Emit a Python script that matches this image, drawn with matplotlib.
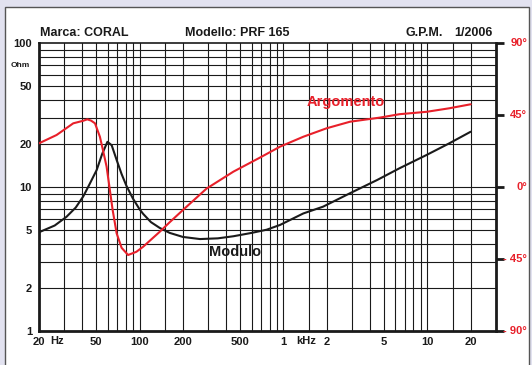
import matplotlib
matplotlib.use("Agg")
import matplotlib.pyplot as plt
import matplotlib.patches as patches
import numpy as np

# impedance modulus (Ohm) vs frequency (Hz)
mod_freq = [20, 25.7, 31, 36, 40.6, 45, 50.3, 55, 59.8, 64, 69.3, 75, 81, 90, 100,
            106, 120, 138, 162, 200, 263, 350, 449, 600, 764, 946, 1373, 1884, 2900,
            4490, 6410, 9890, 14200, 20000]
mod_ohm = [4.85, 5.4, 6.2, 7.2, 8.6, 10.5, 13.1, 17.0, 20.6, 19.5, 15.4, 12.3, 10.2, 8.3, 7.0,
           6.5, 5.7, 5.2, 4.8, 4.5, 4.35, 4.4, 4.55, 4.8, 5.05, 5.45, 6.55, 7.3, 9.05,
           11.2, 13.5, 16.7, 20.1, 24.2]

# impedance phase (degrees) vs frequency (Hz)
ph_freq = [20, 26.5, 34.6, 40.6, 43.3, 46, 49, 53, 56, 59, 65, 69.3, 75, 83.2, 95,
           106, 138, 162, 200, 292, 449, 684, 946, 1373, 1995, 2900, 4700, 6400,
           9890, 14200, 20000]
ph_deg = [27.3, 32.5, 39.8, 41.4, 42.3, 41.5, 39.8, 31.4, 22, 12.7, -14.4, -29, -38, -42.5, -40.5,
          -37.3, -28, -22, -14.4, -1, 9.6, 18.3, 25.2, 31.4, 36.7, 40.8, 43.4, 45.5,
          47, 49.2, 51.7]

x_ticks = [20, 50, 100, 200, 500, 1000, 2000, 5000, 10000, 20000]
x_labels = ["20", "50", "100", "200", "500", "1", "2", "5", "10", "20"]
y_ticks = [1, 2, 5, 10, 20, 50, 100]
ph_ticks = [90, 45, 0, -45, -90]
ph_labels = ["90°", "45°", "0°", "- 45°", "- 90°"]

x_grid = [30, 40, 50, 60, 70, 80, 90, 100, 150, 200, 300, 400, 500, 600, 700, 800, 900,
          1000, 1500, 2000, 3000, 4000, 5000, 6000, 7000, 8000, 9000, 10000, 15000, 20000]
y_grid = [2, 3, 4, 5, 6, 7, 8, 9, 10, 20, 30, 40, 50, 60, 70, 80, 90]

RED = "#e8202a"
INK = "#1a1a1a"
W, H = 532, 365

plt.rcParams['font.family'] = ['Liberation Sans', 'DejaVu Sans']
plt.rcParams['font.weight'] = 'bold'

fig = plt.figure(figsize=(W / 100, H / 100), dpi=100)
fig.patch.set_facecolor("#e2e2f0")

# white panel behind the chart
panel = patches.Rectangle((5 / W, -0.05), (529 - 5) / W, (H - 7) / H + 0.05,
                          transform=fig.transFigure, facecolor="white",
                          edgecolor="#555555", linewidth=1.0, zorder=-10)
fig.patches.append(panel)

ax = fig.add_axes([39 / W, (H - 331) / H, (496 - 39) / W, (331 - 43) / H])
ax.set_xscale("log")
ax.set_yscale("log")
ax.set_xlim(20, 30000)
ax.set_ylim(1, 100)
ax.set_facecolor("white")

for v in x_grid:
    ax.axvline(v, color=INK, lw=0.8, zorder=1)
for v in y_grid:
    ax.axhline(v, color=INK, lw=0.8, zorder=1)

for side in ["left", "bottom", "right"]:
    ax.spines[side].set_linewidth(2.0)
    ax.spines[side].set_color(INK)
ax.spines["top"].set_linewidth(1.2)
ax.spines["top"].set_color(INK)

ax.set_xticks(x_ticks)
ax.set_xticklabels(x_labels)
ax.xaxis.set_minor_locator(matplotlib.ticker.NullLocator())
ax.set_yticks(y_ticks)
ax.set_yticklabels([str(v) for v in y_ticks])
ax.yaxis.set_minor_locator(matplotlib.ticker.NullLocator())
ax.tick_params(axis="both", length=0, labelsize=8, colors=INK)
ax.tick_params(axis="x", pad=4)
ax.tick_params(axis="y", pad=5)

ax.plot(mod_freq, mod_ohm, color=INK, lw=1.5, zorder=4, solid_capstyle="round")

ax.text(23.8, -0.019, "Hz", transform=ax.get_xaxis_transform(), fontsize=8,
        color=INK, ha="left", va="top")
ax.text(1236, -0.019, "kHz", transform=ax.get_xaxis_transform(), fontsize=8,
        color=INK, ha="left", va="top")
ax.text(-0.02, 70, "Ohm", transform=ax.get_yaxis_transform(), fontsize=6,
        color=INK, ha="right", va="center")

ax2 = ax.twinx()
ax2.set_ylim(-90, 90)
ax2.set_yticks(ph_ticks)
ax2.set_yticklabels([])
ax2.tick_params(axis="y", direction="out", length=6, width=2, colors=INK)
for side in ["left", "bottom", "right", "top"]:
    ax2.spines[side].set_visible(False)
ax2.plot(ph_freq, ph_deg, color=RED, lw=1.5, zorder=5, solid_capstyle="round")
for v, lab in zip(ph_ticks, ph_labels):
    ax2.text(1.068, v, lab, transform=ax2.get_yaxis_transform(), fontsize=8,
             color=RED, ha="right", va="center")

ax2.text(1440, 53, "Argomento", fontsize=10.5, color=RED, ha="left", va="center")
ax.text(304, 3.54, "Modulo", fontsize=10.5, color=INK, ha="left", va="center")

fig.text(40 / W, 1 - 36.5 / H, "Marca: CORAL", fontsize=9, color=INK, ha="left", va="baseline")
fig.text(185 / W, 1 - 36.5 / H, "Modello: PRF 165", fontsize=9, color=INK, ha="left", va="baseline")
fig.text(405 / W, 1 - 36.5 / H, "G.P.M.", fontsize=9, color=INK, ha="left", va="baseline")
fig.text(493 / W, 1 - 36.5 / H, "1/2006", fontsize=9, color=INK, ha="right", va="baseline")

fig.savefig("out.png", dpi=100, facecolor=fig.get_facecolor())
